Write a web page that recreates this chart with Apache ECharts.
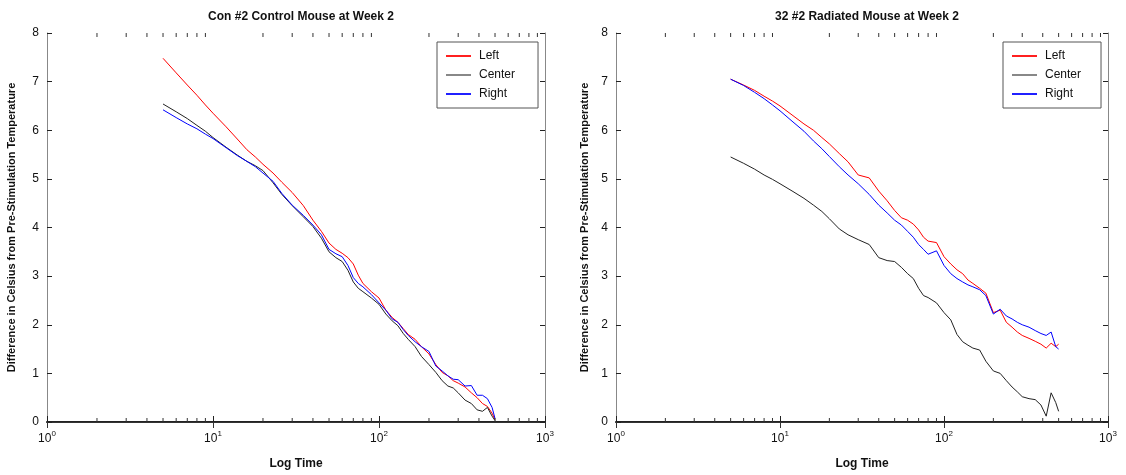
<!DOCTYPE html>
<html style="height: 100%">

<head>
  <meta charset="UTF-8" />
  <title>Mouse Temperature Decay</title>
  <script src="https://cdn.jsdelivr.net/npm/echarts@6/dist/echarts.min.js"></script>
</head>

<body style="height: 100%; margin: 0; background: #fff">
  <div id="main" style="width: 1126px; height: 475px"></div>
  <script>
    // time samples (seconds), shared by every curve
    const times = [5, 6, 7, 8, 9, 10, 12, 14, 16, 18, 20, 23, 26, 30, 35, 40, 45, 50, 55, 60,
      65, 70, 75, 80, 90, 100, 110, 120, 130, 140, 150, 165, 180, 200, 220, 240, 260, 280, 300,
      330, 360, 390, 420, 450, 480, 500];

    // Con #2 control mouse
    const controlLeft = [7.48, 7.18, 6.93, 6.72, 6.52, 6.35, 6.07, 5.82, 5.60, 5.45, 5.30, 5.12, 4.93, 4.72,
      4.45, 4.15, 3.92, 3.68, 3.55, 3.47, 3.38, 3.25, 3.02, 2.85, 2.68, 2.55, 2.30, 2.15, 2.05, 1.92,
      1.80, 1.70, 1.55, 1.40, 1.18, 1.02, 0.95, 0.85, 0.80, 0.72, 0.60, 0.50, 0.38, 0.32, 0.18, 0.05];
    const controlCenter = [6.54, 6.38, 6.24, 6.10, 5.98, 5.85, 5.65, 5.49, 5.36, 5.27, 5.17, 4.92, 4.68, 4.45,
      4.22, 4.02, 3.78, 3.50, 3.38, 3.30, 3.12, 2.88, 2.75, 2.68, 2.55, 2.42, 2.22, 2.08, 1.98, 1.82,
      1.70, 1.55, 1.35, 1.18, 1.02, 0.85, 0.74, 0.70, 0.60, 0.45, 0.38, 0.25, 0.22, 0.30, 0.12, 0.03];
    const controlRight = [6.42, 6.26, 6.13, 6.03, 5.92, 5.83, 5.64, 5.48, 5.36, 5.25, 5.12, 4.95, 4.70, 4.46,
      4.25, 4.05, 3.85, 3.55, 3.46, 3.40, 3.22, 2.97, 2.85, 2.78, 2.62, 2.45, 2.30, 2.12, 2.05, 1.90,
      1.78, 1.65, 1.55, 1.45, 1.15, 1.05, 0.95, 0.88, 0.87, 0.74, 0.75, 0.55, 0.55, 0.48, 0.30, 0.07];

    // 32 #2 radiated mouse
    const radLeft = [7.05, 6.93, 6.82, 6.70, 6.60, 6.50, 6.30, 6.13, 6.00, 5.85, 5.72, 5.52, 5.35, 5.08,
      5.02, 4.75, 4.55, 4.35, 4.20, 4.15, 4.07, 3.95, 3.80, 3.72, 3.69, 3.40, 3.25, 3.13, 3.05, 2.92,
      2.85, 2.75, 2.65, 2.25, 2.30, 2.05, 1.95, 1.85, 1.78, 1.72, 1.66, 1.60, 1.52, 1.62, 1.55, 1.60];
    const radCenter = [5.45, 5.32, 5.20, 5.08, 4.99, 4.90, 4.74, 4.60, 4.46, 4.33, 4.18, 3.97, 3.85, 3.75,
      3.65, 3.38, 3.32, 3.30, 3.18, 3.05, 2.95, 2.75, 2.60, 2.56, 2.45, 2.25, 2.10, 1.80, 1.65, 1.58,
      1.52, 1.48, 1.25, 1.05, 1.00, 0.85, 0.72, 0.62, 0.52, 0.48, 0.46, 0.35, 0.12, 0.60, 0.40, 0.22];
    const radRight = [7.05, 6.92, 6.78, 6.65, 6.52, 6.40, 6.17, 5.98, 5.78, 5.62, 5.46, 5.25, 5.08, 4.90,
      4.68, 4.46, 4.30, 4.15, 4.05, 3.92, 3.80, 3.65, 3.55, 3.45, 3.52, 3.22, 3.05, 2.95, 2.88, 2.82,
      2.78, 2.72, 2.60, 2.22, 2.32, 2.18, 2.12, 2.05, 2.00, 1.95, 1.88, 1.82, 1.78, 1.85, 1.55, 1.50];

    const seriesNames = ['Left', 'Center', 'Right'];
    const seriesColors = ['#ff0000', '#222222', '#0000ff'];
    const legendColors = ['#ff2020', '#888888', '#2020ff'];
    const minorTickValues = [2, 3, 4, 5, 6, 7, 8, 9, 20, 30, 40, 50, 60, 70, 80, 90, 200, 300, 400, 500, 600, 700, 800, 900];
    const titles = ['Con #2 Control Mouse at Week 2', '32 #2 Radiated Mouse at Week 2'];

    const font = 'Liberation Sans, Arial, sans-serif';
    const chart = echarts.init(document.getElementById('main'));

    const grids = [
      { left: 47, right: 581, top: 33, bottom: 50 },
      { left: 616, right: 18, top: 33, bottom: 50 }
    ];

    function pairs(vals) {
      return times.map((t, i) => [t, vals[i]]);
    }

    const xAxes = [];
    const yAxes = [];
    grids.forEach((g, gi) => {
      xAxes.push({
        type: 'log', logBase: 10, min: 1, max: 1000, gridIndex: gi, position: 'bottom',
        name: 'Log Time', nameLocation: 'middle', nameGap: 36,
        nameTextStyle: { fontFamily: font, fontSize: 12, fontWeight: 'bold', color: '#111' },
        axisLine: { show: true, lineStyle: { color: '#222', width: 2 } },
        axisTick: { inside: true, length: 6, lineStyle: { color: '#222' } },
        splitLine: { show: false },
        axisLabel: {
          margin: 8,
          formatter: function (v) {
            return '{b|10}{s|' + Math.round(Math.log10(v)) + '}';
          },
          rich: {
            b: { fontFamily: font, fontSize: 12, color: '#111' },
            s: { fontFamily: font, fontSize: 8, color: '#111', verticalAlign: 'bottom', padding: [0, 0, 9, 0] }
          }
        }
      });
      xAxes.push({
        type: 'log', logBase: 10, min: 1, max: 1000, gridIndex: gi, position: 'top',
        axisLine: { show: true, lineStyle: { color: '#333', width: 1 } },
        axisTick: { inside: true, length: 6, lineStyle: { color: '#333' } },
        axisLabel: { show: false },
        splitLine: { show: false }
      });
      yAxes.push({
        type: 'value', min: 0, max: 8, interval: 1, gridIndex: gi, position: 'left',
        name: 'Difference in Celsius from Pre-Stimulation Temperature',
        nameLocation: 'middle', nameGap: gi === 0 ? 30 : 26,
        nameTextStyle: { fontFamily: font, fontSize: 11, fontWeight: 'bold', color: '#111' },
        axisLine: { show: true, lineStyle: { color: '#888', width: 1 } },
        axisTick: { inside: true, length: 5, lineStyle: { color: '#222' } },
        axisLabel: { fontFamily: font, fontSize: 12, color: '#111', margin: 8 },
        splitLine: { show: false }
      });
      yAxes.push({
        type: 'value', min: 0, max: 8, interval: 1, gridIndex: gi, position: 'right',
        axisLine: { show: true, lineStyle: { color: '#888', width: 1 } },
        axisTick: { inside: true, length: 5, lineStyle: { color: '#222' } },
        axisLabel: { show: false },
        splitLine: { show: false }
      });
    });

    const panelData = [
      [controlLeft, controlCenter, controlRight],
      [radLeft, radCenter, radRight]
    ];

    const series = [];
    panelData.forEach((vals, gi) => {
      vals.forEach((v, si) => {
        series.push({
          name: seriesNames[si],
          type: 'line',
          xAxisIndex: gi * 2,
          yAxisIndex: gi * 2,
          symbol: 'none',
          color: seriesColors[si],
          lineStyle: { width: 1, color: seriesColors[si] },
          data: pairs(v),
          z: 3
        });
      });
      // log minor ticks, top and bottom
      series.push({
        type: 'custom',
        name: 'minor',
        xAxisIndex: gi * 2,
        yAxisIndex: gi * 2,
        silent: true,
        data: minorTickValues.map(t => [t, 0]),
        renderItem: function (params, api) {
          const t = api.value(0);
          const b = api.coord([t, 0]);
          const tp = api.coord([t, 8]);
          return {
            type: 'group',
            children: [
              { type: 'line', shape: { x1: b[0], y1: b[1], x2: b[0], y2: b[1] - 4 }, style: { stroke: '#333', lineWidth: 1 } },
              { type: 'line', shape: { x1: tp[0], y1: tp[1], x2: tp[0], y2: tp[1] + 4 }, style: { stroke: '#333', lineWidth: 1 } }
            ]
          };
        },
        z: 4
      });
    });

    const legendItems = seriesNames.map((n, i) => ({
      name: n,
      icon: 'rect',
      itemStyle: { color: legendColors[i] }
    }));

    const legendBase = {
      data: legendItems,
      orient: 'vertical',
      top: 42,
      itemGap: 7,
      itemWidth: 25,
      itemHeight: 2,
      backgroundColor: '#fff',
      borderColor: '#555',
      borderWidth: 1,
      textStyle: { fontFamily: font, fontSize: 12, color: '#111', padding: [0, 0, 0, 3] }
    };

    const option = {
      animation: false,
      backgroundColor: '#fff',
      title: titles.map((t, i) => ({
        text: t,
        left: i === 0 ? 296 : 862,
        top: 6,
        textAlign: 'center',
        textStyle: { fontFamily: font, fontSize: 12, fontWeight: 'bold', color: '#111' }
      })),
      legend: [
        Object.assign({ left: 437, padding: [8, 23, 8, 9] }, legendBase),
        Object.assign({ left: 1003, padding: [8, 20, 8, 9] }, legendBase)
      ],
      grid: grids,
      xAxis: xAxes,
      yAxis: yAxes,
      series: series
    };

    chart.setOption(option);
  </script>
</body>

</html>
